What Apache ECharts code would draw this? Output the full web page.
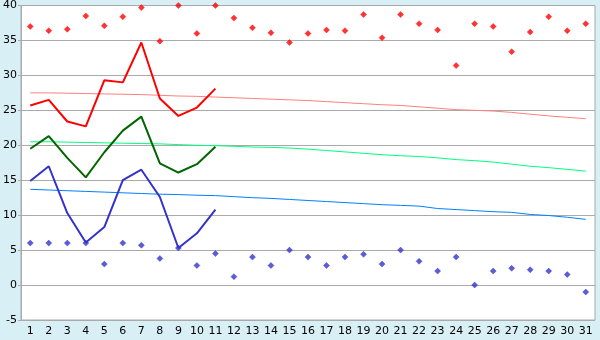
<!DOCTYPE html>
<html>
<head>
<meta charset="utf-8">
<script src="https://cdn.jsdelivr.net/npm/echarts@6/dist/echarts.min.js"></script>
<style>html,body{margin:0;padding:0;background:#d9eff6;}#c{width:600px;height:340px;}</style>
</head>
<body>
<div id="c"></div>
<script>
var days = ['1','2','3','4','5','6','7','8','9','10','11','12','13','14','15','16','17','18','19','20','21','22','23','24','25','26','27','28','29','30','31'];
var recordMax = [37,36.4,36.6,38.5,37.1,38.4,39.7,34.9,40,36,40,38.2,36.8,36.1,34.7,36,36.5,36.4,38.7,35.4,38.7,37.4,36.5,31.4,37.4,37,33.4,36.2,38.4,36.4,37.4];
var recordMin = [6,6,6,6,3,6,5.7,3.8,5.3,2.8,4.5,1.2,4,2.8,5,4,2.8,4,4.4,3,5,3.4,2,4,0,2,2.4,2.2,2,1.5,-1];
var obsMax = [25.7,26.5,23.4,22.7,29.3,29,34.7,26.7,24.2,25.4,28.1];
var obsMean = [19.5,21.3,18.2,15.4,19.0,22.1,24.1,17.4,16.1,17.3,19.8];
var obsMin = [14.9,17,10.3,6.1,8.3,15,16.5,12.6,5.3,7.4,10.8];
var normMax = [27.5,27.5,27.45,27.4,27.35,27.3,27.25,27.15,27.05,27.0,26.9,26.8,26.7,26.6,26.5,26.4,26.25,26.1,25.95,25.8,25.7,25.5,25.3,25.1,25.0,24.9,24.7,24.45,24.2,24.0,23.8];
var normMean = [20.5,20.5,20.45,20.4,20.35,20.3,20.25,20.2,20.1,20.0,19.95,19.85,19.75,19.7,19.6,19.45,19.25,19.05,18.85,18.65,18.5,18.4,18.2,17.95,17.8,17.6,17.3,17.0,16.8,16.55,16.3];
var normMin = [13.7,13.6,13.5,13.4,13.3,13.2,13.1,13.0,12.95,12.85,12.8,12.65,12.5,12.4,12.25,12.1,11.95,11.8,11.65,11.5,11.4,11.3,10.95,10.8,10.65,10.5,10.4,10.1,9.95,9.7,9.4];
var yMin = -5, yMax = 40, yStep = 5;

var marker = 'path://M2,0H3V2H5V3H3V5H2V3H0V2H2Z';
function lineS(data, color, width, z) {
  return {type:'line', data:data, symbol:'none', lineStyle:{color:color, width:width}, itemStyle:{color:color}, z:z, animation:false, silent:true};
}
function dotS(data, color) {
  return {type:'scatter', data:data, symbol:'diamond', symbolSize:6, itemStyle:{color:color, borderColor:color, borderWidth:0.5}, z:3, animation:false, silent:true};
}
var chart = echarts.init(document.getElementById('c'), null, {renderer:'canvas'});
chart.setOption({
  backgroundColor:'#d9eff6',
  animation:false,
  grid:{left:20, right:5, top:5, bottom:20, show:true, backgroundColor:'#ffffff', borderColor:'#aaaaaa', borderWidth:1},
  xAxis:{type:'category', data:days, boundaryGap:true,
    axisLine:{lineStyle:{color:'#aaaaaa'}},
    axisTick:{alignWithLabel:true, length:5, lineStyle:{color:'#aaaaaa'}},
    axisLabel:{color:'#000', fontFamily:'DejaVu Sans', fontSize:11, margin:6, interval:0},
    splitLine:{show:false}},
  yAxis:{type:'value', min:yMin, max:yMax, interval:yStep,
    axisLine:{show:true, lineStyle:{color:'#aaaaaa'}},
    axisTick:{show:true, length:3, lineStyle:{color:'#aaaaaa'}},
    axisLabel:{color:'#000', fontFamily:'DejaVu Sans', fontSize:11, margin:4},
    splitLine:{lineStyle:{color:'#aaaaaa', width:1}}},
  series:[
    lineS(normMax, '#ff8080', 1, 2),
    lineS(normMean, '#00ff80', 1, 2),
    lineS(normMin, '#0080ff', 1, 2),
    dotS(recordMax, '#ff0000'),
    dotS(recordMin, '#3333cc'),
    lineS(obsMax, '#ff0000', 2, 4),
    lineS(obsMean, '#006600', 2, 4),
    lineS(obsMin, '#3333cc', 2, 4)
  ]
});
</script>
</body>
</html>
